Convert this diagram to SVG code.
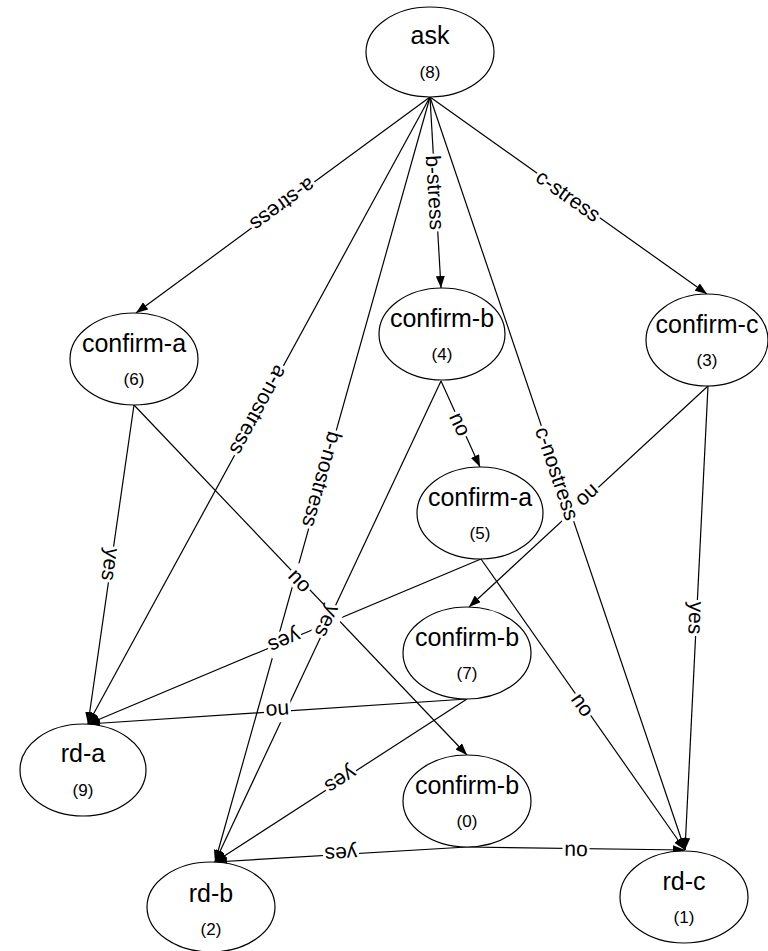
<svg xmlns="http://www.w3.org/2000/svg" width="768" height="951" viewBox="0 0 768 951">
<style>
.node ellipse{fill:#fff;stroke:#000;stroke-width:1.2}
.nl{font-family:"Liberation Sans",Arial,sans-serif;font-size:25px;text-anchor:middle;fill:#000}
.nn{font-family:"Liberation Sans",Arial,sans-serif;font-size:17px;text-anchor:middle;fill:#000}
.e{stroke:#000;stroke-width:1.2;fill:none;marker-end:url(#arr)}
.lb rect{fill:#fff}
.lb text{font-family:"Liberation Sans",Arial,sans-serif;font-size:21px;text-anchor:middle;fill:#000}
</style>
<defs>
<marker id="arr" viewBox="0 0 12 9" refX="12" refY="4.5" markerWidth="12" markerHeight="9" markerUnits="userSpaceOnUse" orient="auto">
<path d="M0,0 L12,4.5 L0,9 z" fill="#000"/>
</marker>
</defs>
<rect width="768" height="951" fill="#fff"/>
<g id="connectors">
<line class="e" x1="430" y1="97" x2="136" y2="313"/>
<line class="e" x1="430" y1="97" x2="441" y2="288"/>
<line class="e" x1="430" y1="97" x2="707" y2="294"/>
<line class="e" x1="430" y1="97" x2="88" y2="724"/>
<line class="e" x1="430" y1="97" x2="215" y2="862"/>
<line class="e" x1="430" y1="97" x2="685" y2="850"/>
<line class="e" x1="134" y1="405" x2="88" y2="724"/>
<line class="e" x1="134" y1="405" x2="467" y2="755"/>
<line class="e" x1="441" y1="381" x2="480" y2="467"/>
<line class="e" x1="441" y1="381" x2="215" y2="862"/>
<line class="e" x1="708" y1="386" x2="469" y2="607"/>
<line class="e" x1="708" y1="386" x2="685" y2="850"/>
<line class="e" x1="481" y1="559" x2="88" y2="724"/>
<line class="e" x1="481" y1="559" x2="685" y2="850"/>
<line class="e" x1="467" y1="699" x2="88" y2="724"/>
<line class="e" x1="467" y1="699" x2="215" y2="862"/>
<line class="e" x1="467" y1="847" x2="215" y2="862"/>
<line class="e" x1="467" y1="847" x2="685" y2="850"/>
<g class="lb" transform="translate(283,205) rotate(143.7)"><rect x="-39" y="-11" width="78" height="22"/><text y="7.5">a-stress</text></g>
<g class="lb" transform="translate(435.5,192.5) rotate(86.7)"><rect x="-39" y="-11" width="78" height="22"/><text y="7.5">b-stress</text></g>
<g class="lb" transform="translate(568.5,195.5) rotate(35.4)"><rect x="-38.5" y="-11" width="77" height="22"/><text y="7.5">c-stress</text></g>
<g class="lb" transform="translate(259,410.5) rotate(118.6)"><rect x="-51" y="-11" width="102" height="22"/><text y="7.5">a-nostress</text></g>
<g class="lb" transform="translate(322.5,479.5) rotate(105.7)"><rect x="-51" y="-11" width="102" height="22"/><text y="7.5">b-nostress</text></g>
<g class="lb" transform="translate(557.5,473.5) rotate(71.3)"><rect x="-50.5" y="-11" width="101" height="22"/><text y="7.5">c-nostress</text></g>
<g class="lb" transform="translate(111,564.5) rotate(98.2)"><rect x="-18" y="-11" width="36" height="22"/><text y="7.5">yes</text></g>
<g class="lb" transform="translate(300.5,580) rotate(46.4)"><rect x="-13.5" y="-11" width="27" height="22"/><text y="7.5">no</text></g>
<g class="lb" transform="translate(460.5,424) rotate(65.6)"><rect x="-13.5" y="-11" width="27" height="22"/><text y="7.5">no</text></g>
<g class="lb" transform="translate(328,621.5) rotate(115.2)"><rect x="-18" y="-11" width="36" height="22"/><text y="7.5">yes</text></g>
<g class="lb" transform="translate(588.5,496.5) rotate(137.2)"><rect x="-13.5" y="-11" width="27" height="22"/><text y="7.5">no</text></g>
<g class="lb" transform="translate(696.5,618) rotate(92.8)"><rect x="-18" y="-11" width="36" height="22"/><text y="7.5">yes</text></g>
<g class="lb" transform="translate(284.5,641.5) rotate(157.2)"><rect x="-18" y="-11" width="36" height="22"/><text y="7.5">yes</text></g>
<g class="lb" transform="translate(583,704.5) rotate(55)"><rect x="-13.5" y="-11" width="27" height="22"/><text y="7.5">no</text></g>
<g class="lb" transform="translate(277.5,711.5) rotate(176.2)"><rect x="-13.5" y="-11" width="27" height="22"/><text y="7.5">no</text></g>
<g class="lb" transform="translate(341,780.5) rotate(147.1)"><rect x="-18" y="-11" width="36" height="22"/><text y="7.5">yes</text></g>
<g class="lb" transform="translate(341,854.5) rotate(176.6)"><rect x="-18" y="-11" width="36" height="22"/><text y="7.5">yes</text></g>
<g class="lb" transform="translate(576,848.5) rotate(0.8)"><rect x="-13.5" y="-11" width="27" height="22"/><text y="7.5">no</text></g>
</g>
<g id="n8" class="node"><ellipse cx="430" cy="52" rx="64" ry="45"/><text class="nl" x="430" y="44">ask</text><text class="nn" x="430" y="78">(8)</text></g>
<g id="n6" class="node"><ellipse cx="134" cy="359" rx="64" ry="46"/><text class="nl" x="134" y="352">confirm-a</text><text class="nn" x="134" y="385">(6)</text></g>
<g id="n4" class="node"><ellipse cx="442" cy="334" rx="63" ry="46"/><text class="nl" x="442" y="327">confirm-b</text><text class="nn" x="442" y="360">(4)</text></g>
<g id="n3" class="node"><ellipse cx="707" cy="340" rx="61" ry="46"/><text class="nl" x="707" y="333">confirm-c</text><text class="nn" x="707" y="366">(3)</text></g>
<g id="n5" class="node"><ellipse cx="480" cy="513" rx="63" ry="46"/><text class="nl" x="480" y="506">confirm-a</text><text class="nn" x="480" y="539">(5)</text></g>
<g id="n7" class="node"><ellipse cx="467" cy="653" rx="64" ry="46"/><text class="nl" x="467" y="646">confirm-b</text><text class="nn" x="467" y="679">(7)</text></g>
<g id="n0" class="node"><ellipse cx="467" cy="801" rx="64" ry="46"/><text class="nl" x="467" y="794">confirm-b</text><text class="nn" x="467" y="827">(0)</text></g>
<g id="n9" class="node"><ellipse cx="83" cy="770" rx="63" ry="46"/><text class="nl" x="83" y="762">rd-a</text><text class="nn" x="83" y="796">(9)</text></g>
<g id="n2" class="node"><ellipse cx="211" cy="907" rx="64" ry="45"/><text class="nl" x="211" y="902">rd-b</text><text class="nn" x="211" y="935">(2)</text></g>
<g id="n1" class="node"><ellipse cx="684" cy="897" rx="64" ry="46"/><text class="nl" x="684" y="890">rd-c</text><text class="nn" x="684" y="923">(1)</text></g>
</svg>
